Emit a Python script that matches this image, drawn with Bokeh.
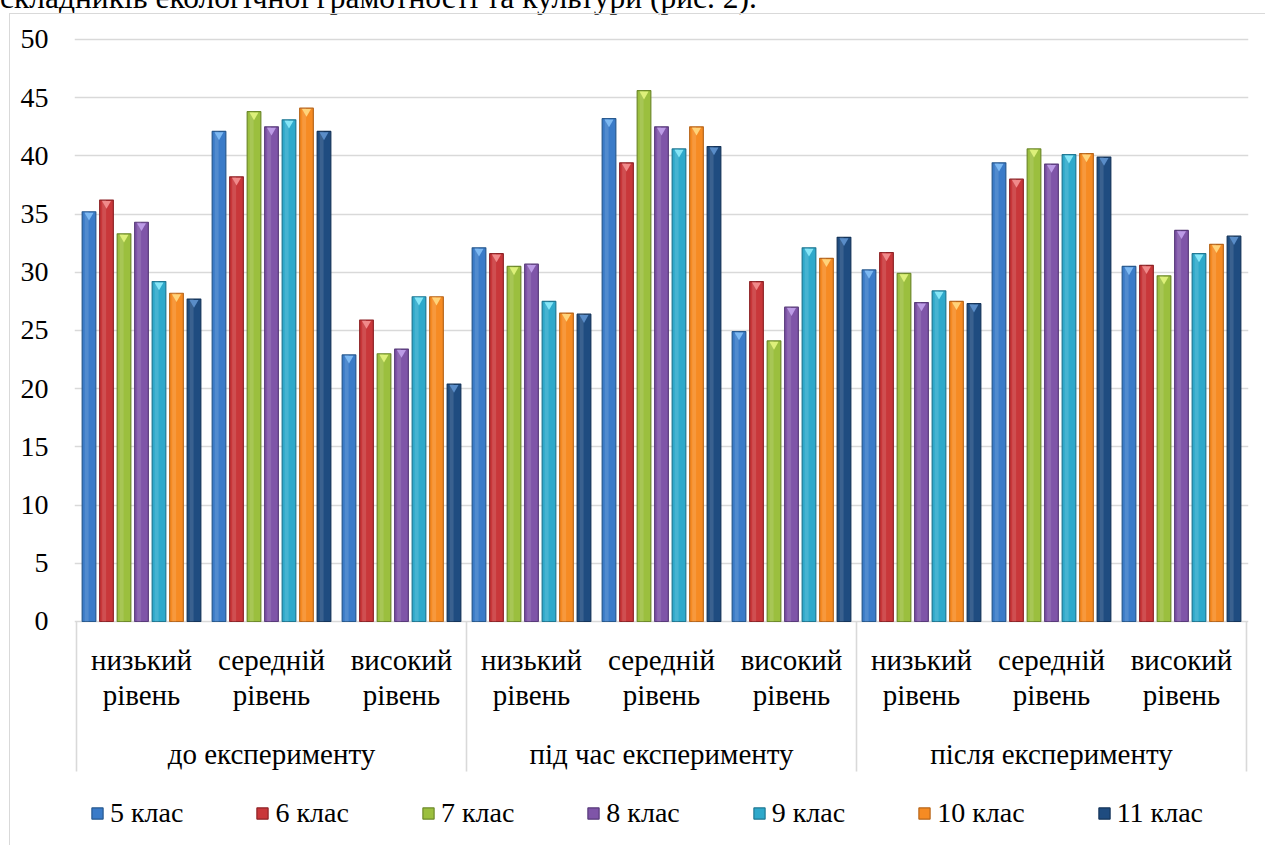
from bokeh.plotting import figure
from bokeh.models import (ColumnDataSource, FixedTicker, Legend, LegendItem,
                          Range1d, Div)
from bokeh.layouts import column
from bokeh.core.properties import value
from bokeh.embed import file_html
from bokeh.resources import INLINE

# ---------------- data ----------------
caption = "складників екологічної грамотності та культури (рис. 2)."
stages = ["до експерименту", "під час експерименту", "після експерименту"]
levels = ["низький рівень", "середній рівень", "високий рівень"]
series = ["5 клас", "6 клас", "7 клас", "8 клас", "9 клас", "10 клас", "11 клас"]
y_ticks = [0, 5, 10, 15, 20, 25, 30, 35, 40, 45, 50]

s5 = [35.2, 42.1, 22.9, 32.1, 43.2, 24.9, 30.2, 39.4, 30.5]
s6 = [36.2, 38.2, 25.9, 31.6, 39.4, 29.2, 31.7, 38.0, 30.6]
s7 = [33.3, 43.8, 23.0, 30.5, 45.6, 24.1, 29.9, 40.6, 29.7]
s8 = [34.3, 42.5, 23.4, 30.7, 42.5, 27.0, 27.4, 39.3, 33.6]
s9 = [29.2, 43.1, 27.9, 27.5, 40.6, 32.1, 28.4, 40.1, 31.6]
s10 = [28.2, 44.1, 27.9, 26.5, 42.5, 31.2, 27.5, 40.2, 32.4]
s11 = [27.7, 42.1, 20.4, 26.4, 40.8, 33.0, 27.3, 39.9, 33.1]
all_values = [s5, s6, s7, s8, s9, s10, s11]

# ---------------- styles ----------------
main_colors = ["#3A7BC8", "#C9373A", "#9BBF3E", "#7F55A8", "#2EA9CB", "#F68B23", "#1F4C80"]
edge_colors = ["#27598F", "#8E2326", "#6E8A2A", "#583A7A", "#1F7893", "#B8661A", "#14345A"]
tip_colors = ["#7DB9F2", "#F08A8A", "#DDF07A", "#BC9BE6", "#86E6F7", "#FFD37A", "#5A8DC8"]
FONT = "Liberation Serif"
GRID = "#D9D9D9"

n_cat = len(stages) * len(levels)
cat_x = [i + 0.5 for i in range(n_cat)]
pitch = 0.1346
bar_w = 0.105

p = figure(width=1256, height=832, output_backend="svg", toolbar_location=None,
           x_axis_location=None,
           x_range=Range1d(-0.0154, n_cat + 0.0154),
           y_range=Range1d(-19.33, 50.17),
           min_border_left=64, min_border_right=18, min_border_top=23,
           min_border_bottom=0, margin=(5, 0, 0, 9),
           styles={"border-left": "1px solid #D9D9D9", "border-top": "1px solid #D9D9D9"})
p.outline_line_color = None
p.background_fill_color = "white"
p.border_fill_color = "white"

p.yaxis.ticker = FixedTicker(ticks=y_ticks)
p.ygrid.ticker = FixedTicker(ticks=y_ticks)
p.ygrid.grid_line_color = GRID
p.ygrid.grid_line_width = 1.6
p.xgrid.grid_line_color = None
p.yaxis.axis_line_color = None
p.yaxis.major_tick_line_color = None
p.yaxis.minor_tick_line_color = None
p.yaxis.major_label_standoff = 20
p.yaxis.major_label_text_font = FONT
p.yaxis.major_label_text_font_size = "28px"
p.yaxis.major_label_text_color = "black"

legend_items = []
for j, (name, vals) in enumerate(zip(series, all_values)):
    xs = [c + (j - 3) * pitch for c in cat_x]
    src = ColumnDataSource(dict(x=xs, top=vals, tip=[v - 0.3 for v in vals],
                                hx=[x - 0.018 for x in xs]))
    r = p.vbar(x="x", top="top", bottom=0, width=bar_w, source=src,
               fill_color=main_colors[j], line_color=edge_colors[j], line_width=1.2)
    p.vbar(x="hx", top="top", bottom=0, width=0.03, source=src,
           fill_color="white", fill_alpha=0.12, line_color=None)
    p.scatter(x="x", y="tip", source=src, marker="inverted_triangle", size=9,
              fill_color=tip_colors[j], line_color=None)
    legend_items.append(LegendItem(label=name, renderers=[r]))

# category separators
bounds = [k * len(levels) for k in range(len(stages) + 1)]
p.segment(x0=bounds, y0=[0] * len(bounds), x1=bounds, y1=[-12.89] * len(bounds),
          line_color=GRID, line_width=1.6)

# level labels (two lines)
lvl_line1 = [levels[i % 3].split(" ")[0] for i in range(n_cat)]
lvl_line2 = [levels[i % 3].split(" ")[1] for i in range(n_cat)]
p.text(x=cat_x, y=[-3.3] * n_cat, text=lvl_line1, text_align="center",
       text_baseline="alphabetic", text_font=value(FONT), text_font_size="29px",
       text_color="black")
p.text(x=cat_x, y=[-6.3] * n_cat, text=lvl_line2, text_align="center",
       text_baseline="alphabetic", text_font=value(FONT), text_font_size="29px",
       text_color="black")
# stage labels
stage_x = [k * 3 + 1.5 for k in range(len(stages))]
p.text(x=stage_x, y=[-11.4] * len(stages), text=stages, text_align="center",
       text_baseline="alphabetic", text_font=value(FONT), text_font_size="29px",
       text_color="black")

legend = Legend(items=legend_items, orientation="horizontal", location=(16, 17),
                glyph_width=14, glyph_height=14, label_standoff=6, spacing=72,
                padding=0, margin=0, border_line_color=None,
                background_fill_alpha=0, label_text_font=FONT,
                label_text_font_size="28px", label_text_color="black")
p.add_layout(legend)

cap = Div(text=caption, width=840, height=20, margin=(-12, 0, 0, 0),
          styles={"font-family": "'Liberation Serif', serif", "font-size": "31.5px",
                  "line-height": "20px", "white-space": "nowrap", "color": "black"})

layout = column(cap, p)
open("out.html", "w").write(file_html(layout, INLINE))
